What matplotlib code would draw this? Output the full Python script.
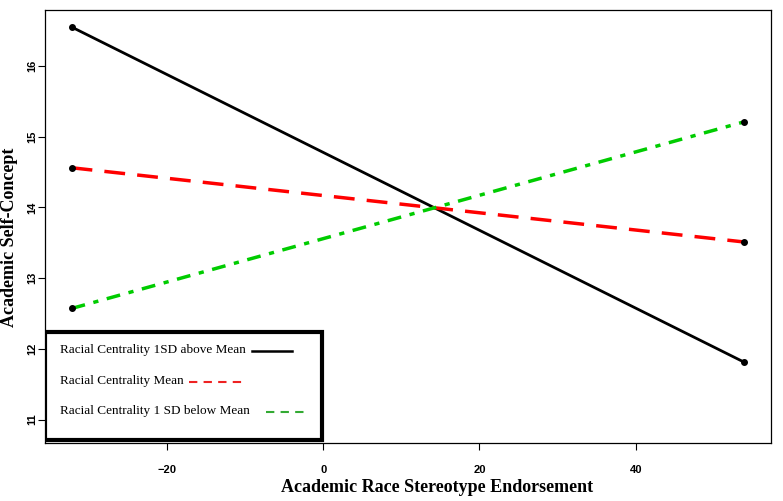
import matplotlib.pyplot as plt
from matplotlib.patches import Rectangle

# endorsement values at -1SD / +1SD
x_vals = [-32.2, 53.9]
high_cent = [16.55, 11.81]
mean_cent = [14.56, 13.51]
low_cent = [12.57, 15.21]

labels = ['Racial Centrality 1SD above Mean',
          'Racial Centrality Mean',
          'Racial Centrality 1 SD below Mean']
xticks = [-20, 0, 20, 40]
yticks = [11, 12, 13, 14, 15, 16]

fig = plt.figure(figsize=(7.83, 5.01), dpi=100)
fig.set_facecolor('white')
ax = fig.add_axes([0.0575, 0.116, 0.927, 0.864])

ax.plot(x_vals, high_cent, color='black', lw=2, solid_capstyle='round')
ax.plot(x_vals, mean_cent, color='#ff0000', lw=2.5, dashes=(6, 3.5))
ax.plot(x_vals, low_cent, color='#00cc00', lw=2.5, dashes=(4, 2.5, 1.5, 2.5))
for ys in (high_cent, mean_cent, low_cent):
    ax.plot(x_vals, ys, ls='none', marker='o', ms=4, color='black')

ax.set_xlim(-35.6, 57.3)
ax.set_ylim(10.67, 16.79)
ax.set_xticks(xticks)
ax.set_yticks(yticks)
ax.set_xticklabels(['\u221220', '0', '20', '40'], fontfamily='Liberation Sans',
                   fontweight='bold', fontsize=8)
ax.set_yticklabels([str(t) for t in yticks], fontfamily='Liberation Sans',
                   fontweight='bold', fontsize=8, rotation=90, va='center', ha='center')
ax.tick_params(axis='x', length=5, width=0.8, pad=11)
ax.tick_params(axis='y', length=5, width=0.8, pad=4)
for s in ax.spines.values():
    s.set_linewidth(0.9)

ax.set_xlabel('Academic Race Stereotype Endorsement', fontfamily='Liberation Serif',
              fontweight='bold', fontsize=13)
ax.xaxis.set_label_coords(0.54, -0.083)
fig.text(0.0115, 0.527, 'Academic Self-Concept', rotation=90, ha='center', va='center',
         fontfamily='Liberation Serif', fontweight='bold', fontsize=13)

# legend box drawn by hand, R style
ax.add_patch(Rectangle((0.0, 0.007), 0.3815, 0.2495, transform=ax.transAxes,
                       facecolor='white', edgecolor='black', lw=3, zorder=5))
row_y = [0.2148, 0.1432, 0.0739]
samples = [((0.285, 0.340), dict(color='black', lw=1.8)),
           ((0.198, 0.273), dict(color='#ee2222', lw=1.5, dashes=(4, 3))),
           ((0.304, 0.361), dict(color='#33aa33', lw=1.5, dashes=(4, 3)))]
for lab, y, (xs, sty) in zip(labels, row_y, samples):
    ax.text(0.0207, y, lab, transform=ax.transAxes, va='center', ha='left',
            fontfamily='Liberation Serif', fontsize=9.5, zorder=6)
    ax.plot(xs, [y - 0.003, y - 0.003], transform=ax.transAxes, zorder=6, **sty)

fig.savefig('out.png', dpi=100)
